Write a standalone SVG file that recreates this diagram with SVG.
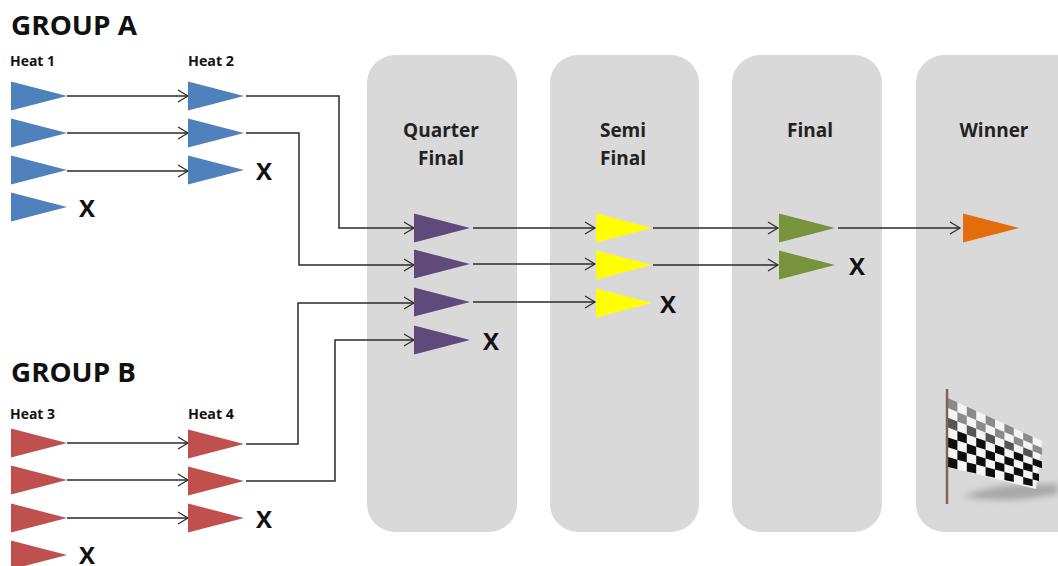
<svg xmlns="http://www.w3.org/2000/svg" width="1058" height="566" viewBox="0 0 1058 566">
<style>
text{font-family:"Open Sans","Liberation Sans",sans-serif;font-weight:700;fill:#111}
.g{font-size:27px}
.h{font-size:14px}
.t{font-size:19px;text-anchor:middle;fill:#222}
.x{font-size:24px;text-anchor:middle}
.p{fill:#d9d9d9}
.c path{fill:none;stroke:#2a2a2a;stroke-width:1.5;marker-end:url(#a)}
.blue{fill:#4f81bd}.red{fill:#c0504d}.pur{fill:#604a7b}.yel{fill:#ffff00}.grn{fill:#77933c}.org{fill:#e46c0a}
</style>
<defs>
<marker id="a" markerWidth="14" markerHeight="16" refX="12" refY="8" orient="auto" markerUnits="userSpaceOnUse"><path d="M2 2L12 8L2 14" fill="none" stroke="#2a2a2a" stroke-width="1.2"/></marker>
<path id="f" d="M0-14.5L56 0L0 14.5Z"/>
<filter id="b1" x="-20%" y="-20%" width="140%" height="140%"><feGaussianBlur stdDeviation="0.6"/></filter>
<filter id="b2" x="-30%" y="-100%" width="160%" height="300%"><feGaussianBlur stdDeviation="3"/></filter>
</defs>
<g id="panels">
<rect id="panel-quarter" class="p" x="367" y="55" width="150" height="477" rx="28"/>
<rect id="panel-semi" class="p" x="550" y="55" width="149" height="477" rx="28"/>
<rect id="panel-final" class="p" x="732" y="55" width="150" height="477" rx="28"/>
<rect id="panel-winner" class="p" x="916" y="55" width="170" height="477" rx="28"/>
</g>
<g id="connectors">
<g class="c">
<path d="M67 96H188"/><path d="M67 133H188"/><path d="M67 171H188"/>
<path d="M67 443H188"/><path d="M67 480H188"/><path d="M67 518H188"/>
<path d="M246 96H339V228H414"/><path d="M246 133H299V265H414"/>
<path d="M246 444H298V303H414"/><path d="M246 481H335V340H414"/>
<path d="M473 228H595"/><path d="M473 264H595"/><path d="M473 302H595"/>
<path d="M653 228H778"/><path d="M653 265H778"/><path d="M838 228H960"/>
</g>
</g>
<g id="labels">
<text class="g" x="11" y="35" textLength="126" lengthAdjust="spacingAndGlyphs">GROUP A</text>
<text class="g" x="11" y="382" textLength="125" lengthAdjust="spacingAndGlyphs">GROUP B</text>
<text class="h" x="10" y="66" textLength="45" lengthAdjust="spacingAndGlyphs">Heat 1</text>
<text class="h" x="188" y="66" textLength="46" lengthAdjust="spacingAndGlyphs">Heat 2</text>
<text class="h" x="10" y="419" textLength="45" lengthAdjust="spacingAndGlyphs">Heat 3</text>
<text class="h" x="188" y="419" textLength="46" lengthAdjust="spacingAndGlyphs">Heat 4</text>
<text class="t" x="441" y="137">Quarter</text><text class="t" x="441" y="165">Final</text>
<text class="t" x="623" y="137">Semi</text><text class="t" x="623" y="165">Final</text>
<text class="t" x="810" y="137">Final</text>
<text class="t" x="994" y="137">Winner</text>
</g>
<g id="group-a-heat-1" class="blue">
<use href="#f" x="11" y="96"/><use href="#f" x="11" y="133"/><use href="#f" x="11" y="170"/><use href="#f" x="11" y="207"/>
<text class="x" x="87" y="217">X</text>
</g>
<g id="group-a-heat-2" class="blue">
<use href="#f" x="188" y="96"/><use href="#f" x="188" y="133"/><use href="#f" x="188" y="170"/>
<text class="x" x="264" y="180">X</text>
</g>
<g id="group-b-heat-3" class="red">
<use href="#f" x="11" y="443"/><use href="#f" x="11" y="480"/><use href="#f" x="11" y="518"/><use href="#f" x="11" y="555"/>
<text class="x" x="87" y="564">X</text>
</g>
<g id="group-b-heat-4" class="red">
<use href="#f" x="188" y="444"/><use href="#f" x="188" y="481"/><use href="#f" x="188" y="518"/>
<text class="x" x="264" y="528">X</text>
</g>
<g id="quarter-final" class="pur">
<use href="#f" x="414" y="228"/><use href="#f" x="414" y="264"/><use href="#f" x="414" y="302"/><use href="#f" x="414" y="340"/>
<text class="x" x="491" y="350">X</text>
</g>
<g id="semi-final" class="yel">
<use href="#f" x="596" y="228"/><use href="#f" x="596" y="265"/><use href="#f" x="596" y="303"/>
<text class="x" x="668" y="313">X</text>
</g>
<g id="final" class="grn">
<use href="#f" x="779" y="228"/><use href="#f" x="779" y="265"/>
<text class="x" x="857" y="275">X</text>
</g>
<g id="winner" class="org">
<use href="#f" x="963" y="228"/>
</g>
<g id="flag">
<path d="M962 497Q990 484 1036 484L1058 484V494Q1010 504 962 497Z" fill="#a8a8a8" filter="url(#b2)"/>
<g filter="url(#b1)">
<path d="M948 398L1042 441L1036 489L948 467Z" fill="#f4f4f4"/>
<path fill="#8a8a8a" d="M948 398L957.4 402.3V411.9L948 407.9ZM966.8 406.6L976.2 410.9V419.9L966.8 415.9ZM985.6 415.2L995 419.5V427.9L985.6 423.9ZM1004.4 423.8L1013.8 428.1V435.9L1004.4 431.9ZM1023.2 432.4L1032.6 436.7V443.9L1023.2 439.9ZM957.4 411.9L966.8 415.9V425.1L957.4 421.4ZM976.2 419.9L985.6 423.9V432.5L976.2 428.8ZM995 427.9L1004.4 431.9V439.9L995 436.2ZM1013.8 435.9L1023.2 439.9V447.3L1013.8 443.6ZM1032.6 443.9L1042 447.9V454.7L1032.6 451Z"/>
<path fill="#555" d="M948 417.7L957.4 421.4V431L948 427.6ZM966.8 425.1L976.2 428.8V437.8L966.8 434.4ZM985.6 432.5L995 436.2V444.5L985.6 441.1ZM1004.4 439.9L1013.8 443.6V451.3L1004.4 447.9ZM1023.2 447.3L1032.6 451V458.1L1023.2 454.7Z"/>
<path fill="#111" d="M957.4 431L966.8 434.4V443.6L957.4 440.6ZM976.2 437.8L985.6 441.1V449.8L976.2 446.7ZM995 444.5L1004.4 447.9V455.9L995 452.8ZM1013.8 451.3L1023.2 454.7V462L1013.8 459ZM1032.6 458.1L1042 461.5V468.2L1032.6 465.1ZM948 437.4L957.4 440.6V450.2L948 447.3ZM966.8 443.6L976.2 446.7V455.6L966.8 452.9ZM985.6 449.8L995 452.8V461.2L985.6 458.4ZM1004.4 455.9L1013.8 459V466.7L1004.4 463.9ZM1023.2 462L1032.6 465.1V472.2L1023.2 469.4ZM957.4 450.2L966.8 452.9V462.2L957.4 459.7ZM976.2 455.6L985.6 458.4V467L976.2 464.6ZM995 461.2L1004.4 463.9V471.9L995 469.5ZM1013.8 466.7L1023.2 469.4V476.9L1013.8 474.4ZM1032.6 472.2L1039 474V481L1032.6 479.4ZM948 457.1L957.4 459.7V469.2L948 467ZM966.8 462.2L976.2 464.6V473.5L966.8 471.4ZM985.6 467L995 469.5V477.8L985.6 475.7ZM1004.4 471.9L1013.8 474.4V482.1L1004.4 480ZM1023.2 476.9L1032.6 479.4V486.3L1023.2 484.2Z"/>
<path d="M947 389V504" stroke="#7a6652" stroke-width="2.5" fill="none"/>
</g>
</g>
</svg>
